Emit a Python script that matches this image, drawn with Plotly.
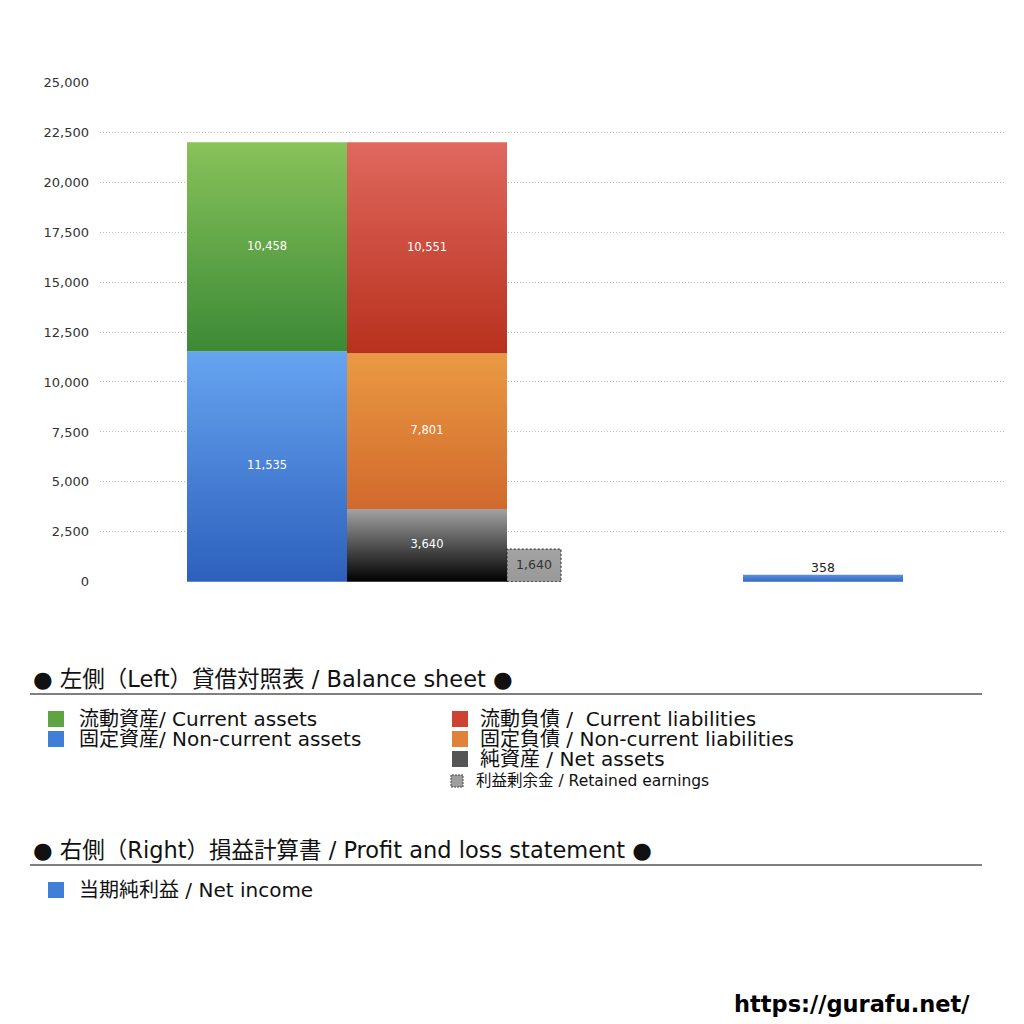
import plotly.graph_objects as go

# 貸借対照表 / 損益計算書 の値
current_assets = 10458
noncurrent_assets = 11535
current_liab = 10551
noncurrent_liab = 7801
net_assets = 3640
retained_earnings = 1640
net_income = 358

y_ticks = [0, 2500, 5000, 7500, 10000, 12500, 15000, 17500, 20000, 22500, 25000]

FONT = "DejaVu Sans, Noto Sans CJK JP"

# the page puts the figure 8px from the top-left corner
OFF = 8
W = H = 1024 - OFF
# plot area in screen pixels (left, right, top, bottom)
L, R, T, B = 100, 1005, 82, 582


def px(x):
    return (x - L) / (R - L)


def py(y):
    return (B - y) / (B - T)


def rect(fig, x0, x1, base, value, c_bottom, c_top, line=None):
    xs = [x0, x1, x1, x0, x0]
    ys = [base, base, base + value, base + value, base]
    fig.add_scatter(
        x=xs, y=ys, mode="lines", fill="toself",
        fillgradient=dict(type="vertical", start=base, stop=base + value,
                          colorscale=[[0, c_bottom], [1, c_top]]),
        line=line or dict(width=0), hoverinfo="skip", showlegend=False)


def label(fig, x, y, text, color="white", pos="middle center", size=11.5):
    fig.add_scatter(x=[x], y=[y], mode="text", text=[text], textposition=pos,
                    textfont=dict(color=color, size=size, family=FONT),
                    hoverinfo="skip", showlegend=False)


fig = go.Figure()

# x in pixel-like units relative to plot left
s1 = (87, 247)
s2 = (247, 407)
s3 = (407, 461)
s4 = (643, 803)

# 左側 資産
rect(fig, *s1, 0, noncurrent_assets, "#2d60bd", "#66a4f0")
rect(fig, *s1, noncurrent_assets, current_assets, "#3c8a36", "#88c25a")
# 右側 負債・純資産
rect(fig, *s2, 0, net_assets, "#000000", "#a2a2a2")
rect(fig, *s2, net_assets, noncurrent_liab, "#d1692c", "#ea9a42")
rect(fig, *s2, net_assets + noncurrent_liab, current_liab, "#b8311e", "#e0685e")
# 利益剰余金
rect(fig, *s3, 0, retained_earnings, "#999999", "#a3a3a3",
     line=dict(color="#222222", width=1, dash="2px,2px"))
# 当期純利益
rect(fig, *s4, 0, net_income, "#3466c4", "#5a90e0")

fmt = "{:,}".format
label(fig, 167, noncurrent_assets / 2, fmt(noncurrent_assets))
label(fig, 167, noncurrent_assets + current_assets / 2, fmt(current_assets))
label(fig, 327, net_assets / 2, fmt(net_assets))
label(fig, 327, net_assets + noncurrent_liab / 2, fmt(noncurrent_liab))
label(fig, 327, net_assets + noncurrent_liab + current_liab / 2, fmt(current_liab))
label(fig, 434, retained_earnings / 2, fmt(retained_earnings), color="#333333", size=12.5)
label(fig, 723, net_income, fmt(net_income), color="#222222", pos="top center", size=12.5)

fig.update_layout(
    width=W, height=H,
    margin=dict(l=L - OFF, r=OFF + W - R, t=T - OFF, b=OFF + H - B),
    plot_bgcolor="white", paper_bgcolor="white",
    font=dict(family=FONT, color="#222222"),
    showlegend=False,
    xaxis=dict(range=[0, R - L], showgrid=False, zeroline=False,
               showticklabels=False, fixedrange=True),
    yaxis=dict(range=[-8, 25008], tickvals=y_ticks,
               ticktext=[fmt(v) for v in y_ticks],
               tickfont=dict(size=13, color="#333333"),
               showgrid=True, gridcolor="#bdbdbd", griddash="1px,2px", gridwidth=1,
               zeroline=False, ticks="", ticklabelstandoff=10),
)

ann = []
shapes = []


def text(x, y, s, size, **kw):
    ann.append(dict(x=px(x), y=py(y), xref="paper", yref="paper", text=s,
                    showarrow=False, xanchor="left", yanchor="middle",
                    font=dict(size=size, family=FONT, color=kw.get("color", "#111111"))))


def square(x, y, size, color, dash=None):
    shapes.append(dict(type="rect", xref="paper", yref="paper",
                       x0=px(x), x1=px(x + size), y0=py(y + size / 2), y1=py(y - size / 2),
                       fillcolor=color,
                       line=dict(width=1 if dash else 0, color="#444444", dash=dash or "solid")))


def rule(y):
    shapes.append(dict(type="line", xref="paper", yref="paper",
                       x0=px(30), x1=px(982), y0=py(y), y1=py(y),
                       line=dict(color="#000000", width=1)))


text(31, 679, "● 左側（Left）貸借対照表 / Balance sheet ●", 22.5)
rule(694)
square(48, 719, 16, "#5ea443")
text(77, 719, "流動資産/ Current assets", 20)
square(48, 739, 16, "#3f7fd8")
text(77, 739, "固定資産/ Non-current assets", 20)
square(452, 719, 16, "#cf4232")
text(478, 719, "流動負債 /  Current liabilities", 20)
square(452, 739, 16, "#e0823a")
text(478, 739, "固定負債 / Non-current liabilities", 20)
square(452, 759, 16, "#555555")
text(478, 759, "純資産 / Net assets", 20)
square(451, 781, 12, "#9e9e9e", dash="2px,1px")
text(474, 781, "利益剰余金 / Retained earnings", 15.5)

text(31, 850, "● 右側（Right）損益計算書 / Profit and loss statement ●", 22.5)
rule(865)
square(48, 890, 16, "#3f7fd8")
text(77, 890, "当期純利益 / Net income", 20)

ann.append(dict(x=px(972), y=py(1004), xref="paper", yref="paper",
                text="<b>https://gurafu.net/</b>", showarrow=False,
                xanchor="right", yanchor="middle",
                font=dict(size=22.5, family=FONT, color="#000000")))

fig.update_layout(annotations=ann, shapes=shapes)

fig.write_html("out.html")
